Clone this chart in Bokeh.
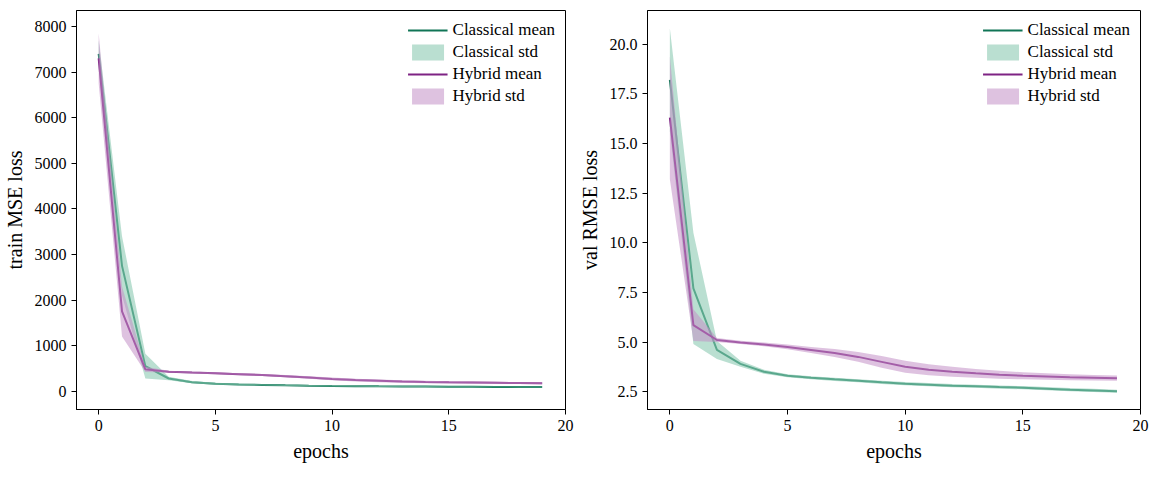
import numpy as np
from bokeh.plotting import figure
from bokeh.layouts import row
from bokeh.embed import file_html
from bokeh.resources import INLINE
from bokeh.models import Range1d

epochs = list(range(20))
train_cls_mean = [7400, 2750, 550, 280, 200, 165, 150, 140, 130, 123, 117, 112, 108, 105, 103, 100, 98, 96, 95, 93]
train_cls_std = [300, 650, 270, 40, 25, 20, 18, 16, 15, 14, 13, 12, 12, 11, 11, 10, 10, 10, 10, 10]
train_hyb_mean = [7300, 1750, 480, 430, 410, 395, 375, 355, 330, 300, 270, 245, 228, 212, 202, 195, 190, 185, 180, 175]
train_hyb_std = [550, 550, 60, 20, 20, 20, 20, 22, 25, 28, 30, 30, 30, 28, 27, 25, 24, 23, 22, 22]
val_cls_mean = [18.2, 7.7, 4.6, 3.9, 3.5, 3.3, 3.2, 3.12, 3.05, 2.97, 2.9, 2.85, 2.8, 2.77, 2.73, 2.7, 2.65, 2.6, 2.56, 2.52]
val_cls_std = [2.6, 2.8, 0.45, 0.15, 0.1, 0.08, 0.08, 0.08, 0.08, 0.08, 0.08, 0.08, 0.08, 0.08, 0.08, 0.08, 0.08, 0.08, 0.08, 0.08]
val_hyb_mean = [16.3, 5.85, 5.1, 4.98, 4.88, 4.75, 4.6, 4.45, 4.25, 4.0, 3.75, 3.6, 3.5, 3.42, 3.35, 3.3, 3.26, 3.22, 3.2, 3.18]
val_hyb_std = [3.1, 0.8, 0.1, 0.08, 0.1, 0.12, 0.15, 0.2, 0.25, 0.3, 0.3, 0.28, 0.25, 0.22, 0.2, 0.18, 0.16, 0.15, 0.14, 0.13]

GREEN = "#107556"
PURPLE = "#7e2384"
GBAND = "#8cc9b3"
PBAND = "#c38fc6"
FONT = "Liberation Serif"

def make(ylab, cm, cs, hm, hs, yr, ticks, fmt_dec):
    p = figure(width=575, height=464, output_backend="svg", toolbar_location=None,
               x_range=Range1d(-0.95, 20), y_range=Range1d(*yr))
    cm, cs, hm, hs = map(np.array, (cm, cs, hm, hs))
    p.line(epochs, cm, color=GREEN, line_width=2, legend_label="Classical mean")
    p.varea(epochs, cm - cs, cm + cs, fill_color=GBAND, fill_alpha=0.6, legend_label="Classical std")
    p.line(epochs, hm, color=PURPLE, line_width=2, legend_label="Hybrid mean")
    p.varea(epochs, hm - hs, hm + hs, fill_color=PBAND, fill_alpha=0.55, legend_label="Hybrid std")
    p.xgrid.visible = False
    p.ygrid.visible = False
    p.xaxis.ticker = [0, 5, 10, 15, 20]
    p.yaxis.ticker = ticks
    if fmt_dec:
        p.yaxis.major_label_overrides = {t: f"{t:.1f}" for t in ticks}
    p.xaxis.axis_label = "epochs"
    p.yaxis.axis_label = ylab
    for ax in (p.xaxis[0], p.yaxis[0]):
        ax.axis_label_text_font = FONT
        ax.axis_label_text_font_size = "20px"
        ax.axis_label_text_font_style = "normal"
        ax.axis_label_text_color = "black"
        ax.major_label_text_font = FONT
        ax.major_label_text_font_size = "16px"
        ax.major_label_text_color = "black"
        ax.axis_line_color = "black"
        ax.major_tick_line_color = "black"
        ax.minor_tick_line_color = None
        ax.major_tick_in = 0
        ax.major_tick_out = 5
        ax.axis_label_standoff = 6
    p.outline_line_color = "black"
    p.outline_line_alpha = 1
    p.min_border_right = 10
    p.min_border_top = 10
    p.legend.location = "top_right"
    p.legend.border_line_color = None
    p.legend.background_fill_alpha = 0
    p.legend.label_text_font = FONT
    p.legend.label_text_font_size = "17px"
    p.legend.label_text_color = "black"
    p.legend.glyph_width = 40
    p.legend.spacing = 2
    return p

p1 = make("train MSE loss", train_cls_mean, train_cls_std, train_hyb_mean, train_hyb_std,
          (-400, 8350), [0, 1000, 2000, 3000, 4000, 5000, 6000, 7000, 8000], False)
p2 = make("val RMSE loss", val_cls_mean, val_cls_std, val_hyb_mean, val_hyb_std,
          (1.6, 21.7), [2.5, 5.0, 7.5, 10.0, 12.5, 15.0, 17.5, 20.0], True)
p = row(p1, p2)
open("out.html", "w").write(file_html(p, INLINE))
